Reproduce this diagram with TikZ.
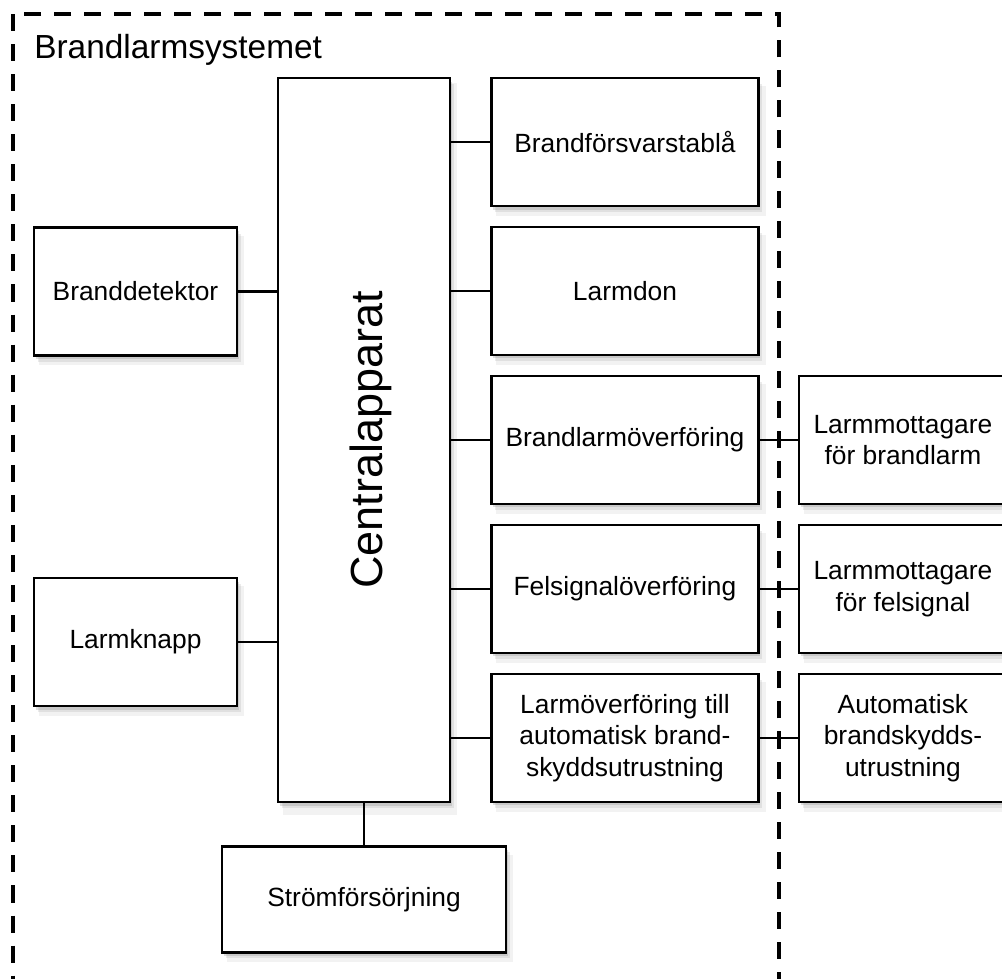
\documentclass[tikz,border=0pt]{standalone}
\usepackage{fontspec}
\setmainfont{Liberation Sans}
\usepackage{xcolor}
\usepackage{tikz}
\usetikzlibrary{positioning, shadows, calc}
\tikzstyle{link} = [line width=1.4pt]
\tikzstyle{frame} = [line width=2.2pt, dash pattern=on 9.7pt off 7.4pt]
\tikzstyle{component} = [rectangle, minimum width=5.34cm, minimum height=2.56cm, align=center, draw=black, line width=1.4pt, fill=white, font=\fontsize{15}{18}\selectfont,
    drop shadow={opacity=0.1, shadow xshift=1.2mm, shadow yshift=-1.8mm, shadow scale=1.01},
    drop shadow={opacity=0.16, shadow xshift=0.8mm, shadow yshift=-1.2mm},
    drop shadow={opacity=0.25, shadow xshift=0.4mm, shadow yshift=-0.7mm}]

\begin{document}
\begin{tikzpicture}[node distance=0.37cm]
    \clip (0,0) rectangle (20.04,-19.56);
    % System boundary
    \draw[frame] (0.26,-0.28) rectangle (15.58,-21);
    \node[anchor=base west, inner sep=0, font=\fontsize{19}{23}\selectfont] (title) at (0.68,-1.16) {Brandlarmsystemet};

    % Central unit
    \node[component, minimum width=3.44cm, minimum height=14.48cm] (central) at (7.28,-8.8) {};
    \node[rotate=90, font=\fontsize{25.6}{30}\selectfont] (centrallabel) at ($(central.center)+(0.14,0)$) {Centralapparat};

    % Outputs
    \node[component, right=0.78cm of central.north east, anchor=north west] (tabla) {Brandförsvarstablå};
    \node[component, below=of tabla] (larmdon) {Larmdon};
    \node[component, below=of larmdon] (brandlarm) {Brandlarmöverföring};
    \node[component, below=of brandlarm] (felsignal) {Felsignalöverföring};
    \node[component, below=of felsignal] (automatik) {Larmöverföring till\\automatisk brand-\\skyddsutrustning};

    % Receivers outside the system
    \node[component, minimum width=4.16cm, right=0.76cm of brandlarm] (mottagarebrand) {Larmmottagare\\för brandlarm};
    \node[component, minimum width=4.16cm, right=0.76cm of felsignal] (mottagarefel) {Larmmottagare\\för felsignal};
    \node[component, minimum width=4.16cm, right=0.76cm of automatik] (skydd) {Automatisk\\brandskydds-\\utrustning};

    % Inputs
    \node[component, minimum width=4.06cm] (detektor) at (2.71,-5.83) {Branddetektor};
    \node[component, minimum width=4.06cm] (knapp) at (2.71,-12.84) {Larmknapp};

    % Power supply
    \node[component, minimum width=5.68cm, minimum height=2.12cm, below=0.84cm of central] (strom) {Strömförsörjning};

    % Connections
    \draw[link] (detektor.east) -- (detektor.east -| central.west);
    \draw[link] (knapp.east) -- (knapp.east -| central.west);
    \foreach \n in {tabla, larmdon, brandlarm, felsignal, automatik}
        \draw[link] (central.east |- \n.west) -- (\n.west);
    \draw[link] (brandlarm.east) -- (mottagarebrand.west);
    \draw[link] (felsignal.east) -- (mottagarefel.west);
    \draw[link] (automatik.east) -- (skydd.west);
    \draw[link] (central.south) -- (strom.north);
\end{tikzpicture}
\end{document}
